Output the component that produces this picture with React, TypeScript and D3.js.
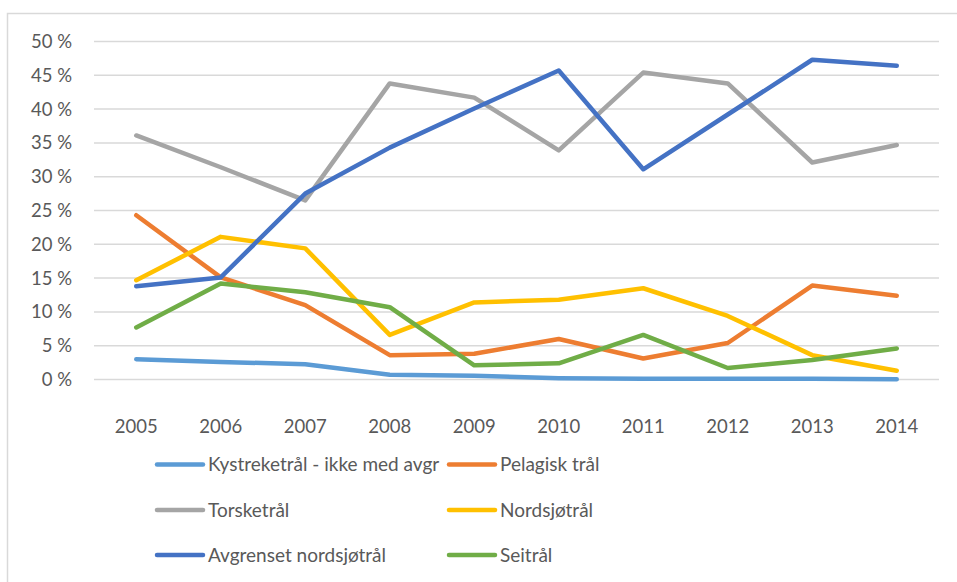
import React from 'react';
import * as d3 from 'd3';

const years = ['2005', '2006', '2007', '2008', '2009', '2010', '2011', '2012', '2013', '2014'];
const yTicks = [0, 5, 10, 15, 20, 25, 30, 35, 40, 45, 50];

const kystreke = [3.0, 2.6, 2.25, 0.7, 0.55, 0.2, 0.1, 0.1, 0.1, 0.05];
const pelagisk = [24.3, 15.1, 11.0, 3.6, 3.8, 6.0, 3.1, 5.4, 13.9, 12.4];
const torske = [36.1, 31.4, 26.5, 43.8, 41.7, 33.9, 45.4, 43.8, 32.1, 34.7];
const nordsjo = [14.7, 21.1, 19.4, 6.6, 11.4, 11.8, 13.5, 9.4, 3.6, 1.3];
const avgrenset = [13.8, 15.1, 27.5, 34.3, 40.1, 45.7, 31.1, 39.2, 47.3, 46.4];
const sei = [7.7, 14.2, 12.9, 10.7, 2.1, 2.4, 6.6, 1.7, 2.9, 4.6];

const seriesNames = [
  'Kystreketrål - ikke med avgr',
  'Pelagisk trål',
  'Torsketrål',
  'Nordsjøtrål',
  'Avgrenset nordsjøtrål',
  'Seitrål',
];
const seriesValues = [kystreke, pelagisk, torske, nordsjo, avgrenset, sei];
const colors = ['#5b9bd5', '#ed7d31', '#a5a5a5', '#ffc000', '#4472c4', '#70ad47'];

const W = 957;
const H = 582;
const font = 'Lato, "Open Sans", sans-serif';

export default function App() {
  const x = d3.scaleBand().domain(years).range([94, 939]);
  const y = d3.scaleLinear().domain([0, 50]).range([379.5, 41.5]);
  const line = d3
    .line<number>()
    .x((_, i) => (x(years[i]) as number) + x.bandwidth() / 2)
    .y((d) => y(d));

  // draw order: later series on top
  const order = [0, 1, 2, 3, 4, 5];

  return (
    <svg
      width={W}
      height={H}
      style={{ position: 'absolute', left: 0, top: 0, background: '#fff' }}
      fontFamily={font}
    >
      <path d={`M7.5,${H} V13.5 H${W}`} fill="none" stroke="#d9d9d9" strokeWidth={1.5} />

      {yTicks.map((t) => (
        <g key={t}>
          <line x1={94} x2={939} y1={y(t)} y2={y(t)} stroke="#d9d9d9" strokeWidth={1.5} />
          <text x={72} y={y(t)} dy="0.35em" textAnchor="end" fontSize={18.5} fill="#595959">
            {`${t} %`}
          </text>
        </g>
      ))}

      {years.map((yr) => (
        <text
          key={yr}
          x={(x(yr) as number) + x.bandwidth() / 2}
          y={427}
          dy="0.35em"
          textAnchor="middle"
          fontSize={18.5}
          fill="#595959"
        >
          {yr}
        </text>
      ))}

      {order.map((i) => (
        <path
          key={seriesNames[i]}
          d={line(seriesValues[i]) as string}
          fill="none"
          stroke={colors[i]}
          strokeWidth={4.5}
          strokeLinejoin="round"
          strokeLinecap="round"
        />
      ))}

      {seriesNames.map((name, i) => {
        const col = i % 2;
        const row = Math.floor(i / 2);
        const lx = col === 0 ? 157 : 449;
        const ly = [464.5, 510, 555][row];
        return (
          <g key={name}>
            <line
              x1={lx}
              x2={lx + 46}
              y1={ly}
              y2={ly}
              stroke={colors[i]}
              strokeWidth={4.5}
              strokeLinecap="round"
            />
            <text x={lx + 51} y={ly} dy="0.35em" fontSize={19} fill="#595959">
              {name}
            </text>
          </g>
        );
      })}
    </svg>
  );
}
